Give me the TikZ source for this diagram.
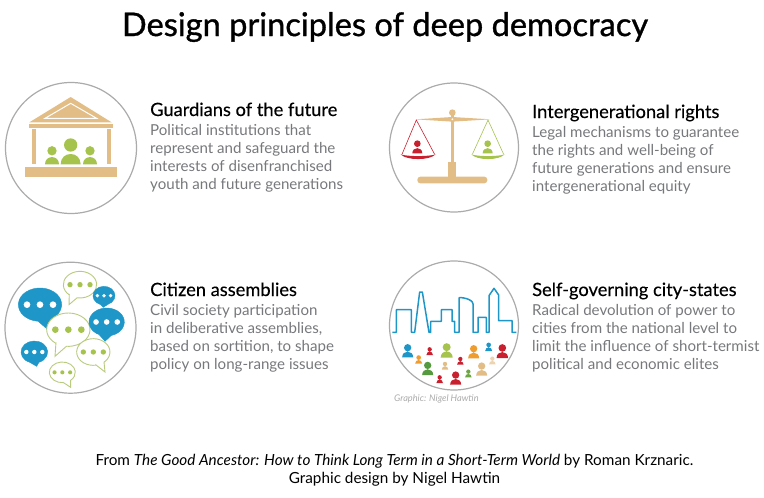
\documentclass[tikz,border=0pt]{standalone}
\usepackage{fontspec}
\setmainfont{Lato}
\newfontfamily\titlefont[FakeBold=1]{Lato}
\newfontfamily\headfont[FakeBold=0.25]{Lato}
\definecolor{tan}{HTML}{E3BD86}
\definecolor{lime}{HTML}{A5C34D}
\definecolor{pale}{HTML}{B9CB7F}
\definecolor{scred}{HTML}{C9202F}
\definecolor{sky}{HTML}{1E96C8}
\definecolor{amber}{HTML}{EE9D2E}
\definecolor{leaf}{HTML}{569A40}
\definecolor{ring}{HTML}{ABABAB}
\definecolor{copy}{HTML}{77787B}
\tikzset{
  blue bubble/.style={fill=sky,draw=sky},
  blue bubble dots/.style={fill=white},
  green bubble/.style={fill=white,draw=pale,line width=0.9pt},
  green bubble dots/.style={fill=lime},
  icon/.style={shift={(#1)},scale=1/3},
  ring node/.style={circle,draw=ring,line width=1.2pt,minimum size=#1,inner sep=0},
  heading/.style={anchor=base west,inner sep=0,font=\fontsize{18.3}{18}\selectfont\headfont},
  copytext/.style={anchor=north west,inner sep=0,align=left,text=copy,font=\fontsize{15.1}{18}\selectfont},
}
\newcommand{\headgap}{2.9}
\newcommand{\person}[4]{
  \fill[#1,shift={(#2,#3)},scale=#4] (0,-\headgap) circle (1)
    (-1.5,0) .. controls (-1.5,-1) and (-0.8,-1.55) .. (0,-1.55)
    .. controls (0.8,-1.55) and (1.5,-1) .. (1.5,0) -- cycle;
}
\newcommand{\bubble}[9]{
  \begin{scope}[shift={(#2,#3)}]
    \path[#1 bubble] (#7:#4 and #5) arc[start angle=#7,end angle=#6+360,x radius=#4,y radius=#5]
      .. controls ($(#6:#4 and #5)!0.5!(#8,#9)$) .. (#8,#9)
      .. controls ($(#7:#4 and #5)!0.5!(#8,#9)$) .. cycle;
    \fill[#1 bubble dots] (0,0) circle ({0.2*#5}) ({-0.6*#4},0) circle ({0.2*#5}) ({0.6*#4},0) circle ({0.2*#5});
  \end{scope}
}
\usetikzlibrary{calc}
\begin{document}
\begin{tikzpicture}[x=1pt,y=-1pt]
  \useasboundingbox (0,0) rectangle (764,498);
  \node[font=\fontsize{32.6}{33}\selectfont\titlefont] (title) at (385,27) {Design principles of deep democracy};

  \node[ring node=131] (guardring) at (71,148) {};
  \node[ring node=129] (rightsring) at (454,147.5) {};
  \node[ring node=131] (citizenring) at (70.5,327.7) {};
  \node[ring node=129] (cityring) at (454,325.5) {};

  \begin{scope}[icon={0,75}]
    \fill[tan] (212,66) -- (335,142) -- (88,142) -- cycle;
    \draw[white,line width=1pt] (212,85) -- (290,130) -- (135,130) -- cycle;
    \fill[tan] (86,148) rectangle (338,158);
    \fill[tan] (95,163) rectangle (107,268);
    \fill[tan] (320,163) rectangle (332,268);
    \fill[tan] (75,275) rectangle (352,305);
    \person{lime}{212}{268}{20}
    \person{lime}{156}{268}{14}
    \person{lime}{270}{268}{14}
  \end{scope}

  \begin{scope}[icon={383,75}]
    \fill[tan] (204,120) rectangle (213,265);
    \fill[tan] (208,113) circle (10);
    \fill[tan] (97,133) -- (208,126) -- (322,133) -- (208,140) -- cycle;
    \fill[white] (208,133) circle (3);
    \fill[tan] (196,262) rectangle (220,310);
    \fill[tan,rounded corners=3pt] (103,305) rectangle (313,325);
    \draw[scred,line width=0.6pt] (57,238) -- (100,135) -- (155,238);
    \draw[lime,line width=0.6pt] (268,238) -- (315,135) -- (362,238);
    \fill[scred] (53,238) .. controls (70,257) and (140,257) .. (158,238) .. controls (140,245) and (70,245) .. cycle;
    \fill[lime] (265,238) .. controls (282,257) and (348,257) .. (365,238) .. controls (348,245) and (282,245) .. cycle;
    \person{scred}{103}{235}{10}
    \person{lime}{314}{235}{10}
  \end{scope}

  \begin{scope}[icon={0,258}]
    \bubble{blue}{120}{140}{65}{50}{55}{95}{20}{72}
    \bubble{green}{240}{80}{50}{40}{100}{130}{-33}{60}
    \bubble{blue}{312}{113}{33}{28}{70}{110}{-2}{35}
    \bubble{green}{205}{215}{65}{50}{95}{125}{-40}{80}
    \bubble{blue}{320}{192}{53}{42}{75}{115}{-5}{58}
    \bubble{green}{280}{282}{50}{40}{50}{80}{35}{60}
    \bubble{blue}{103}{282}{40}{33}{70}{110}{7}{43}
    \bubble{green}{187}{343}{39}{31}{50}{85}{25}{45}
  \end{scope}

  \begin{scope}[icon={383,258}]
    \renewcommand{\headgap}{2.62}
    \draw[sky,line width=1.5pt,line join=round] (28,223) -- (40,223) -- (40,155) -- (85,155) -- (85,223) -- (95,223)
      -- (110,102) -- (118,102) -- (138,223) -- (143,223) -- (143,190) -- (175,190) -- (175,155) -- (207,155)
      -- (207,190) -- (215,190) -- (215,223) -- (228,223) -- (228,120) .. controls (228,116) and (270,122) .. (270,138)
      -- (270,223) -- (285,223) -- (285,178) -- (310,178) -- (310,223) -- (318,223) -- (318,113) -- (333,91)
      -- (347,111) -- (347,188) -- (387,188) -- (387,223) -- (400,223);
    \person{sky}{74}{298}{11}
    \person{amber}{107}{317}{7}
    \person{scred}{140}{291}{6.5}
    \person{lime}{191}{299}{12}
    \person{scred}{232}{320}{6.5}
    \person{amber}{272}{301}{11}
    \person{sky}{317}{279}{7}
    \person{scred}{358}{300}{11.5}
    \person{tan!65!white}{328}{319}{6.5}
    \person{leaf}{134}{351}{11}
    \person{tan}{186}{335}{6.5}
    \person{tan}{296}{353}{11}
    \person{leaf!70!lime}{256}{358}{6.5}
    \person{scred}{170}{375}{6.5}
    \person{scred}{218}{380}{11}
  \end{scope}

  \node[heading] (guardhead) at (150,116) {Guardians of the future};
  \node[copytext] (guardcopy) at (150,124.5) {Political institutions that\\represent and safeguard the\\interests of disenfranchised\\youth and future generations};
  \node[heading] (rightshead) at (532,118) {Intergenerational rights};
  \node[copytext] (rightscopy) at (532,126.5) {Legal mechanisms to guarantee\\the rights and well-being of\\future generations and ensure\\intergenerational equity};
  \node[heading] (citizenhead) at (150,296) {Citizen assemblies};
  \node[copytext] (citizencopy) at (150,304.5) {Civil society participation\\in deliberative assemblies,\\based on sortition, to shape\\policy on long-range issues};
  \node[heading] (cityhead) at (532,296) {Self-governing city-states};
  \node[copytext] (citycopy) at (532,304.5) {Radical devolution of power to\\cities from the national level to\\limit the influence of short-termist\\political and economic elites};

  \node[anchor=west,inner sep=0,text=ring,font=\fontsize{9.2}{9}\selectfont\itshape] (credit) at (394,399) {Graphic: Nigel Hawtin};
  \node[align=center,font=\fontsize{15.3}{18}\selectfont] (source) at (394.5,470) {From \textit{The Good Ancestor: How to Think Long Term in a Short-Term World} by Roman Krznaric.\\Graphic design by Nigel Hawtin};
\end{tikzpicture}
\end{document}
